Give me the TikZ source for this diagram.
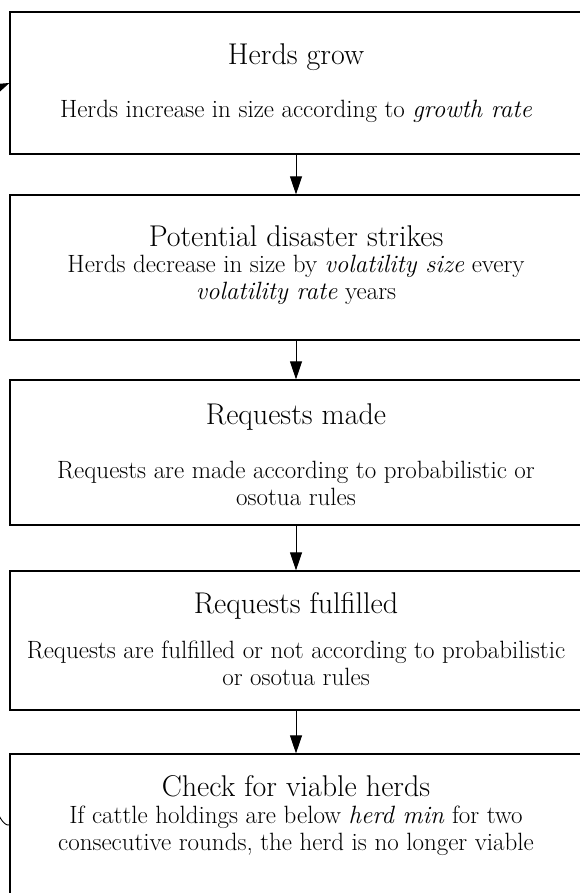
\documentclass[tikz,border=0pt]{standalone}
\usepackage{fontspec}
\usetikzlibrary{arrows.meta}

\tikzset{
  stagebox/.style={draw, line width=1.2pt, minimum width=572pt, inner sep=0pt},
  heading/.style={font=\fontsize{30}{34}\selectfont, anchor=base},
  blurb/.style={font=\fontsize{25}{27}\selectfont, align=center},
  flow/.style={-{Triangle[width=12pt,length=18pt]}, line width=0.9pt}
}

\begin{document}
\begin{tikzpicture} [x=1pt, y=1pt]
  \useasboundingbox (0,0) rectangle (580,893);
  \clip (0,0) rectangle (580,893);
  \path  (296,810)   node[stagebox, minimum height=142pt](HG) {}
          ++(0,-184.5)  node[stagebox, minimum height=145pt](PD) {}
          ++(0,-185)    node[stagebox, minimum height=145pt](RM) {}
           ++(0,-188)   node[stagebox, minimum height=139pt](RF) {}
           ++(0,-184.5) node[stagebox, minimum height=142pt](CV) {};
  % titles and descriptions
  \node[heading] (HGt) at (296,828) {Herds grow};
  \node[blurb, anchor=base] (HGd) at (296,775) {Herds increase in size according to \textit{growth rate}};
  \node[heading] (PDt) at (296,646) {Potential disaster strikes};
  \node[blurb] (PDd) at (296,613) {Herds decrease in size by \textit{volatility size} every\\ \textit{volatility rate} years};
  \node[heading] (RMt) at (296,468) {Requests made};
  \node[blurb] (RMd) at (296,410) {Requests are made according to probabilistic or\\ osotua rules};
  \node[heading] (RFt) at (296,279) {Requests fulfilled};
  \node[blurb] (RFd) at (296,230) {Requests are fulfilled or not according to probabilistic\\ or osotua rules};
  \node[heading] (CVt) at (296,96) {Check for viable herds};
  \node[blurb] (CVd) at (296,62) {If cattle holdings are below \textit{herd min} for two\\ consecutive rounds, the herd is no longer viable};
    \draw [flow] (HG) to (PD);
    \draw [flow] (PD) to (RM);
    \draw [flow] (RM) to (RF);
  \draw [flow] (RF) to (CV);
  \draw [flow] (CV.west) .. controls (-40,60) and (-60,780) .. (HG.west);
\end{tikzpicture}
\end{document}
